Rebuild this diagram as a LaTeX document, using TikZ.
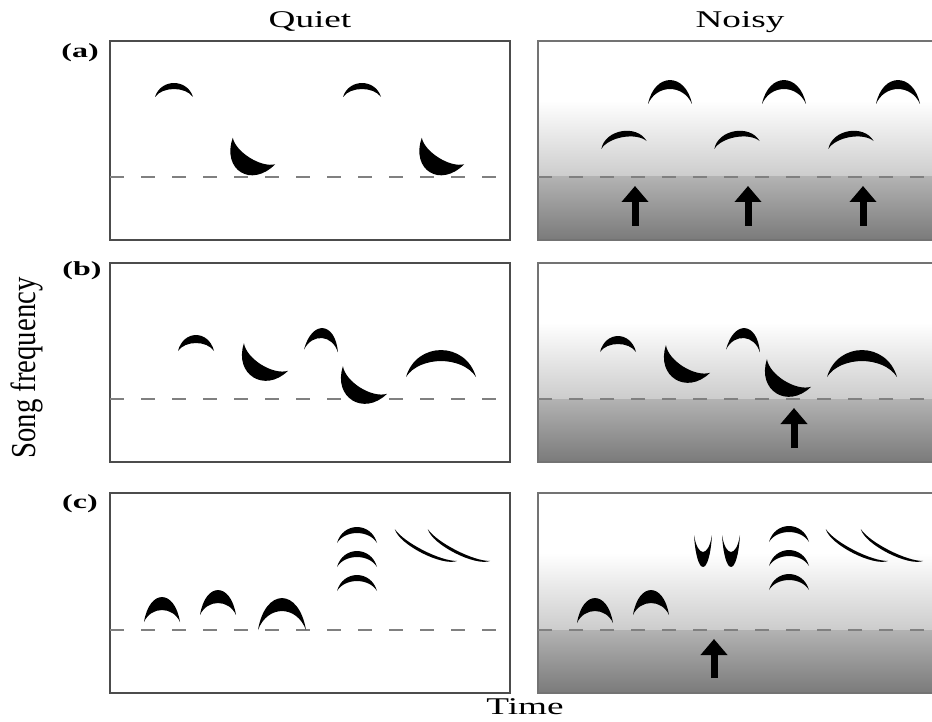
\documentclass[tikz,border=0pt]{standalone}
\usepackage{fontspec}
\setmainfont{Liberation Serif}
\usetikzlibrary{arrows.meta}

% one song syllable: centre x, centre y, half width, outer height, inner height, angle
\newcommand{\syl}[6]{%
  \fill[shift={(#1,#2)}, rotate=#6] (-#3,0)
    .. controls (-0.7*#3,-1.33*#4) and (0.7*#3,-1.33*#4) .. (#3,0)
    .. controls (0.6*#3,-1.33*#5) and (-0.6*#3,-1.33*#5) .. cycle;}

\tikzset{
  panel/.style={draw=black!70, line width=1.8pt},
  threshold/.style={draw=black!50, line width=2pt, dash pattern=on 14pt off 17pt},
  head/.style={font=\fontsize{24}{28}\selectfont, xscale=1.55, inner sep=0pt},
  tag/.style={font=\fontsize{20}{24}\selectfont\bfseries, xscale=1.6, inner sep=0pt},
  shift up/.style={line width=7pt, -{Triangle[width=26pt 0, length=16pt 0]}}
}

\begin{document}
\begin{tikzpicture}[x=1pt, y=-1pt]
\useasboundingbox (0,0) rectangle (932,722);
\clip (0,0) rectangle (932,722);

% panels: top / threshold / bottom
\foreach \t/\d/\b [count=\r] in {41/177/240, 263/399/462, 493/630/693} {
  \draw[panel] (110,\t) rectangle (510,\b);
  \draw[threshold] (110,\d) -- (510,\d);
  \fill[white] (538,\t) rectangle (945,\t+0.3*\b-0.3*\t);
  \shade[top color=white, bottom color=black!20] (538,\t+0.3*\b-0.3*\t) rectangle (945,\d);
  \shade[top color=black!30, bottom color=black!52] (538,\d) rectangle (945,\b);
  \draw[panel, draw=black!55] (538,\t) rectangle (945,\b);
  \draw[threshold] (538,\d) -- (945,\d);
}

% (a) quiet
\foreach \x/\y/\w/\h/\i/\a in {174/97/19/14/8/0, 362/97/19/14/8/0,
    254/151/25/25/8/148, 443/151/25/25/8/148}
  \syl{\x}{\y}{\w}{\h}{\i}{\a};
% (a) noisy
\foreach \x/\y/\w/\h/\i/\a in {670/104/22/24/15/0, 784/104/22/24/15/0, 898/104/22/24/15/0,
    624/145/23/14/8/10, 737/145/23/14/8/10, 851/145/23/14/8/10}
  \syl{\x}{\y}{\w}{\h}{\i}{\a};

% (b) quiet
\foreach \x/\y/\w/\h/\i/\a in {196/351/18/16/8/0, 266/357/26/24/9/148, 321/351/17/23/13/-5,
    365/380/26/24/9/148, 441/377/35/27/16/0}
  \syl{\x}{\y}{\w}{\h}{\i}{\a};
% (b) noisy
\foreach \x/\y/\w/\h/\i/\a in {618/352/18/16/8/0, 688/359/26/24/9/148, 743/351/17/23/13/-5,
    789/373/26/24/9/148, 862/377/35/27/16/0}
  \syl{\x}{\y}{\w}{\h}{\i}{\a};

% (c) quiet
\foreach \x/\y/\w/\h/\i/\a in {162/622/18/25/12/0, 218/615/18/25/12/0, 282/630/24/32/19/0,
    357/543/20/16/10/0, 357/567/20/16/10/0, 357/591/20/16/10/0,
    426/545/35/9/6/153, 459/545/35/9/6/153}
  \syl{\x}{\y}{\w}{\h}{\i}{\a};
% (c) noisy
\foreach \x/\y/\w/\h/\i/\a in {595/623/18/25/12/0, 651/615/18/25/12/0,
    703/535/9/32/17/180, 731/535/9/32/17/180,
    789/542/20/16/10/0, 789/566/20/16/10/0, 789/590/20/16/10/0,
    857/545/35/9/6/153, 892/545/35/9/6/153}
  \syl{\x}{\y}{\w}{\h}{\i}{\a};

% upward shifts
\foreach \x [count=\k] in {635,748,863} {
  \coordinate (a-base-\k) at (\x,226);
  \coordinate (a-tip-\k) at (\x,186);
  \draw[shift up] (a-base-\k) -- (a-tip-\k);
}
\coordinate (b-base) at (794,448);
\coordinate (b-tip) at (794,408);
\draw[shift up] (b-base) -- (b-tip);
\coordinate (c-base) at (714,678);
\coordinate (c-tip) at (714,639);
\draw[shift up] (c-base) -- (c-tip);

% labels
\node[head] (quiet) at (310,22) {Quiet};
\node[head] (noisy) at (740,22) {Noisy};
\node[head] (time) at (525,707) {Time};
\node[tag] (tag-a) at (80,53) {(a)};
\node[tag] (tag-b) at (82,271) {(b)};
\node[tag] (tag-c) at (80,504) {(c)};
\node[font=\fontsize{25}{30}\selectfont, rotate=90, xscale=1.15, yscale=1.4, inner sep=0pt]
  (freq) at (27,368) {Song frequency};
\end{tikzpicture}
\end{document}
